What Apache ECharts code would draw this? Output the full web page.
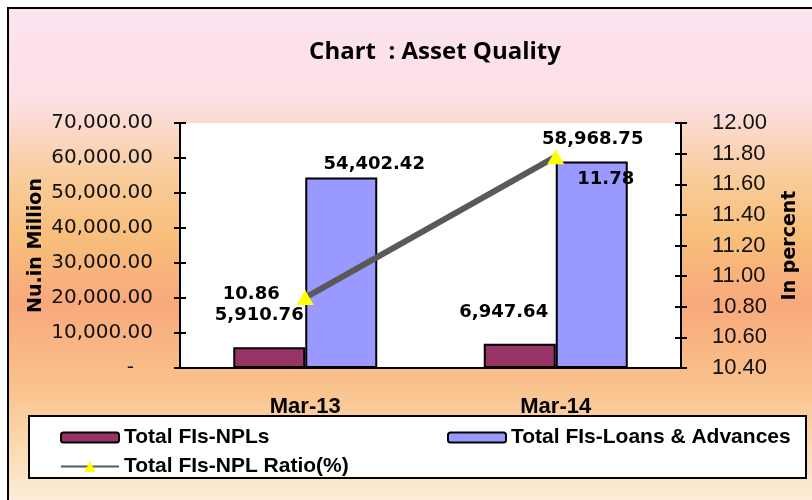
<!DOCTYPE html>
<html>
<head>
<meta charset="utf-8">
<script src="https://cdn.jsdelivr.net/npm/echarts@6/dist/echarts.min.js"></script>
<style>
  html, body { margin: 0; padding: 0; }
  #main { width: 812px; height: 500px; }
</style>
</head>
<body>
<div id="main"></div>
<script>
// chart data
const categories = ["Mar-13", "Mar-14"];
const nplValues = [5910.76, 6947.64];
const loanValues = [54402.42, 58968.75];
const ratioValues = [10.86, 11.78];

const leftAxis = { min: 0, max: 70000, interval: 10000 };
const rightAxis = { min: 10.4, max: 12.0, interval: 0.2 };

// label nudges (Excel placed them by hand)
const nplLabelOffset = [[-10, -18], [-16, -17]];
const loanLabelOffset = [[33, 1], [1, -8]];
const ratioLabelPos = ["left", "right"];
const ratioLabelOffset = [[-12, -3], [8, 23]];

const fmt = v => v.toLocaleString("en-US", { minimumFractionDigits: 2, maximumFractionDigits: 2 });

const dataLabel = {
  show: true,
  color: "#000",
  fontFamily: "DejaVu Sans",
  fontWeight: "bold",
  fontSize: 18
};

const legendText = { fontFamily: "Liberation Sans", fontWeight: "bold", fontSize: 21, color: "#000" };

const chart = echarts.init(document.getElementById("main"));

const option = {
  animation: false,
  graphic: [
    {
      type: "rect",
      z: -10,
      shape: { x: 8, y: 8, width: 820, height: 510 },
      style: {
        stroke: "#000",
        lineWidth: 2,
        fill: {
          type: "linear", x: 0, y: 0, x2: 0, y2: 1,
          colorStops: [
            { offset: 0, color: "#FDE3F0" },
            { offset: 0.18, color: "#FCE0E6" },
            { offset: 0.34, color: "#F9CB98" },
            { offset: 0.45, color: "#F8BE7B" },
            { offset: 0.58, color: "#F8A97C" },
            { offset: 0.74, color: "#F9C28C" },
            { offset: 0.87, color: "#FCDCB6" },
            { offset: 1, color: "#FEF3E8" }
          ]
        }
      }
    },
    {
      type: "rect",
      z: -5,
      shape: { x: 29, y: 416, width: 777, height: 62 },
      style: { fill: "#fff", stroke: "#000", lineWidth: 2 }
    }
  ],
  title: {
    text: "Chart  : Asset Quality",
    left: 430,
    top: 35,
    textAlign: "center",
    textStyle: { fontFamily: "Open Sans", fontWeight: "bold", fontSize: 24, color: "#000" }
  },
  legend: [
    {
      data: ["Total FIs-NPLs"],
      left: 55, top: 422,
      itemWidth: 58, itemHeight: 10,
      textStyle: legendText
    },
    {
      data: ["Total FIs-Loans & Advances"],
      left: 442, top: 422,
      itemWidth: 58, itemHeight: 10,
      textStyle: legendText
    },
    {
      data: ["Total FIs-NPL Ratio(%)"],
      left: 55, top: 451,
      itemWidth: 58, itemHeight: 14,
      lineStyle: { width: 2, color: "#595959" },
      textStyle: legendText
    }
  ],
  grid: {
    left: 180, right: 131, top: 123, bottom: 132,
    show: true, backgroundColor: "#fff", borderWidth: 0
  },
  xAxis: [
    {
      type: "category",
      data: categories,
      axisLine: { lineStyle: { color: "#000", width: 2 } },
      axisTick: { length: 7, lineStyle: { color: "#000", width: 2 } },
      axisLabel: {
        margin: 28, color: "#000",
        fontFamily: "Liberation Sans", fontWeight: "bold", fontSize: 22
      }
    },
    {
      type: "category",
      data: categories,
      position: "bottom",
      axisLine: { show: false },
      axisTick: { inside: true, length: 6, lineStyle: { color: "#000", width: 2 } },
      axisLabel: { show: false }
    }
  ],
  yAxis: [
    {
      type: "value",
      position: "left",
      min: leftAxis.min, max: leftAxis.max, interval: leftAxis.interval,
      name: "Nu.in Million",
      nameLocation: "middle",
      nameGap: 134,
      nameMoveOverlap: false,
      nameRotate: 90,
      nameTextStyle: { fontFamily: "DejaVu Sans", fontWeight: "bold", fontSize: 19, color: "#000" },
      axisLine: { show: true, lineStyle: { color: "#000", width: 2 } },
      axisTick: { show: true, length: 6, lineStyle: { color: "#000", width: 2 } },
      splitLine: { show: false },
      axisLabel: {
        margin: 27, color: "#111",
        fontFamily: "DejaVu Sans", fontSize: 20,
        formatter: v => (v === 0 ? "-   " : fmt(v))
      }
    },
    {
      type: "value",
      position: "right",
      min: rightAxis.min, max: rightAxis.max, interval: rightAxis.interval,
      name: "In percent",
      nameLocation: "middle",
      nameGap: 100,
      nameRotate: 90,
      nameTextStyle: { fontFamily: "DejaVu Sans", fontWeight: "bold", fontSize: 19, color: "#000" },
      axisLine: { show: true, lineStyle: { color: "#000", width: 2 } },
      axisTick: { show: true, length: 6, lineStyle: { color: "#000", width: 2 } },
      splitLine: { show: false },
      axisLabel: {
        margin: 31, color: "#111",
        fontFamily: "Liberation Sans", fontSize: 22,
        formatter: v => v.toFixed(2)
      }
    },
    {
      type: "value",
      position: "left",
      min: leftAxis.min, max: leftAxis.max, interval: leftAxis.interval,
      axisLine: { show: false },
      axisTick: { show: true, inside: true, length: 6, lineStyle: { color: "#000", width: 2 } },
      splitLine: { show: false },
      axisLabel: { show: false }
    },
    {
      type: "value",
      position: "right",
      min: rightAxis.min, max: rightAxis.max, interval: rightAxis.interval,
      axisLine: { show: false },
      axisTick: { show: true, inside: true, length: 6, lineStyle: { color: "#000", width: 2 } },
      splitLine: { show: false },
      axisLabel: { show: false }
    }
  ],
  series: [
    {
      name: "Total FIs-NPLs",
      type: "bar",
      barWidth: 72,
      barGap: "0%",
      itemStyle: { color: "#993366", borderColor: "#000", borderWidth: 2 },
      data: nplValues.map((v, i) => ({
        value: v,
        label: { ...dataLabel, position: "top", distance: 5, offset: nplLabelOffset[i], formatter: p => fmt(p.value) }
      }))
    },
    {
      name: "Total FIs-Loans & Advances",
      type: "bar",
      barWidth: 72,
      barGap: "0%",
      itemStyle: { color: "#9999FF", borderColor: "#000", borderWidth: 2 },
      data: loanValues.map((v, i) => ({
        value: v,
        label: { ...dataLabel, position: "top", distance: 5, offset: loanLabelOffset[i], formatter: p => fmt(p.value) }
      }))
    },
    {
      name: "Total FIs-NPL Ratio(%)",
      type: "line",
      yAxisIndex: 1,
      z: 5,
      symbol: "triangle",
      symbolSize: [17, 15],
      itemStyle: { color: "#FFFF00" },
      lineStyle: { color: "#595959", width: 6 },
      data: ratioValues.map((v, i) => ({
        value: v,
        label: { ...dataLabel, position: ratioLabelPos[i], distance: 5, offset: ratioLabelOffset[i], formatter: p => p.value.toFixed(2) }
      }))
    }
  ]
};

chart.setOption(option);
</script>
</body>
</html>
